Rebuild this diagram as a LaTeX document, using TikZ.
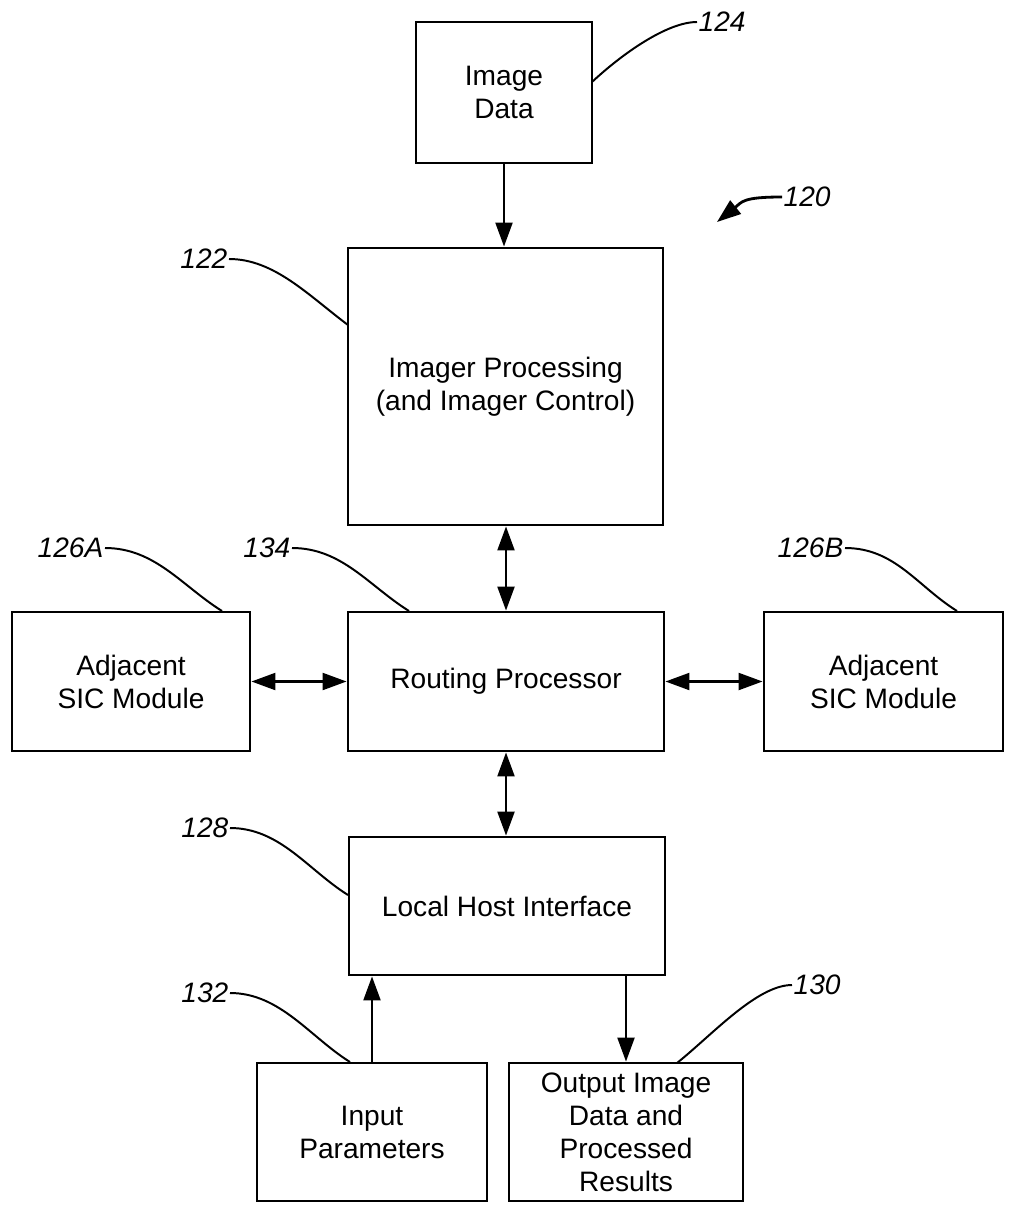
\documentclass[tikz,border=0pt]{standalone}
\usepackage{fontspec}
\setmainfont{Liberation Sans}
\usetikzlibrary{arrows.meta}
\begin{document}
\begin{tikzpicture}[x=0.025cm, y=-0.025cm,
  blk/.style={draw, line width=2pt, align=center, inner sep=0pt, font=\fontsize{20}{23.5}\selectfont},
  conn/.style={line width=1.7pt, >={Triangle[length=17pt, width=12pt]}},
  refnum/.style={font=\fontsize{20}{24}\selectfont\itshape, inner sep=1pt},
  lead/.style={line width=1.4pt}]
  \useasboundingbox (0,0) rectangle (1008,1210);
  % blocks
  \node[blk, minimum width=4.4cm, minimum height=3.525cm] (img) at (504,92.5) {Image\\Data};
  \node[blk, minimum width=7.875cm, minimum height=6.925cm] (proc) at (505.5,386.5) {Imager Processing\\(and Imager Control)};
  \node[blk, minimum width=7.9cm, minimum height=3.475cm] (route) at (506,681.5) {Routing Processor};
  \node[blk, minimum width=5.95cm, minimum height=3.475cm] (adjA) at (131,681.5) {Adjacent\\SIC Module};
  \node[blk, minimum width=5.975cm, minimum height=3.475cm] (adjB) at (883.5,681.5) {Adjacent\\SIC Module};
  \node[blk, minimum width=7.9cm, minimum height=3.45cm] (host) at (507,906) {Local Host Interface};
  \node[blk, minimum width=5.75cm, minimum height=3.45cm] (inp) at (372,1132) {Input\\Parameters};
  \node[blk, minimum width=5.85cm, minimum height=3.45cm] (outp) at (626,1132) {Output Image\\Data and\\Processed\\Results};
  % connectors
  \draw[conn, ->] (img.south) -- (img.south |- proc.north);
  \draw[conn, <->] (route.north) -- (route.north |- proc.south);
  \draw[conn, <->] (adjA) -- (route);
  \draw[conn, <->] (route) -- (adjB);
  \draw[conn, <->] (route.south) -- (route.south |- host.north);
  \draw[conn, ->] (inp.north) -- (inp.north |- host.south);
  \draw[conn, ->] (outp.north |- host.south) -- (outp.north);
  % reference numerals
  \node[refnum, anchor=west] (n124) at (697,22) {124};
  \node[refnum, anchor=west] (n120) at (782,197) {120};
  \node[refnum, anchor=east] (n122) at (229,259) {122};
  \node[refnum, anchor=east] (n126a) at (105,548) {126A};
  \node[refnum, anchor=east] (n134) at (292,548) {134};
  \node[refnum, anchor=east] (n126b) at (845,548) {126B};
  \node[refnum, anchor=east] (n128) at (230,828) {128};
  \node[refnum, anchor=east] (n132) at (230,993) {132};
  \node[refnum, anchor=west] (n130) at (792,985) {130};
  \coordinate (p124) at (592,82);
  \coordinate (p122) at (348,325);
  \coordinate (p126a) at (222,611);
  \coordinate (p134) at (409,611);
  \coordinate (p126b) at (957,611);
  \coordinate (p128) at (348,895);
  \coordinate (p132) at (350,1062);
  \coordinate (p130) at (677,1063);
  \coordinate (p120) at (717,222);
  % leaders
  \draw[lead] (n124.west) .. controls +(-30,0) and +(30,-28) .. (p124);
  \draw[lead] (n122.east) .. controls +(45,0) and +(-40,-30) .. (p122);
  \draw[lead] (n126a.east) .. controls +(50,0) and +(-40,-25) .. (p126a);
  \draw[lead] (n134.east) .. controls +(50,0) and +(-40,-25) .. (p134);
  \draw[lead] (n126b.east) .. controls +(50,0) and +(-40,-25) .. (p126b);
  \draw[lead] (n128.east) .. controls +(50,0) and +(-40,-25) .. (p128);
  \draw[lead] (n132.east) .. controls +(50,0) and +(-40,-25) .. (p132);
  \draw[lead] (p130) .. controls +(35,-28) and +(-35,0) .. (n130.west);
  \draw[conn, ->, line width=2pt] (n120.west) .. controls +(-40,0) and +(25,-20) .. (p120);
\end{tikzpicture}
\end{document}
